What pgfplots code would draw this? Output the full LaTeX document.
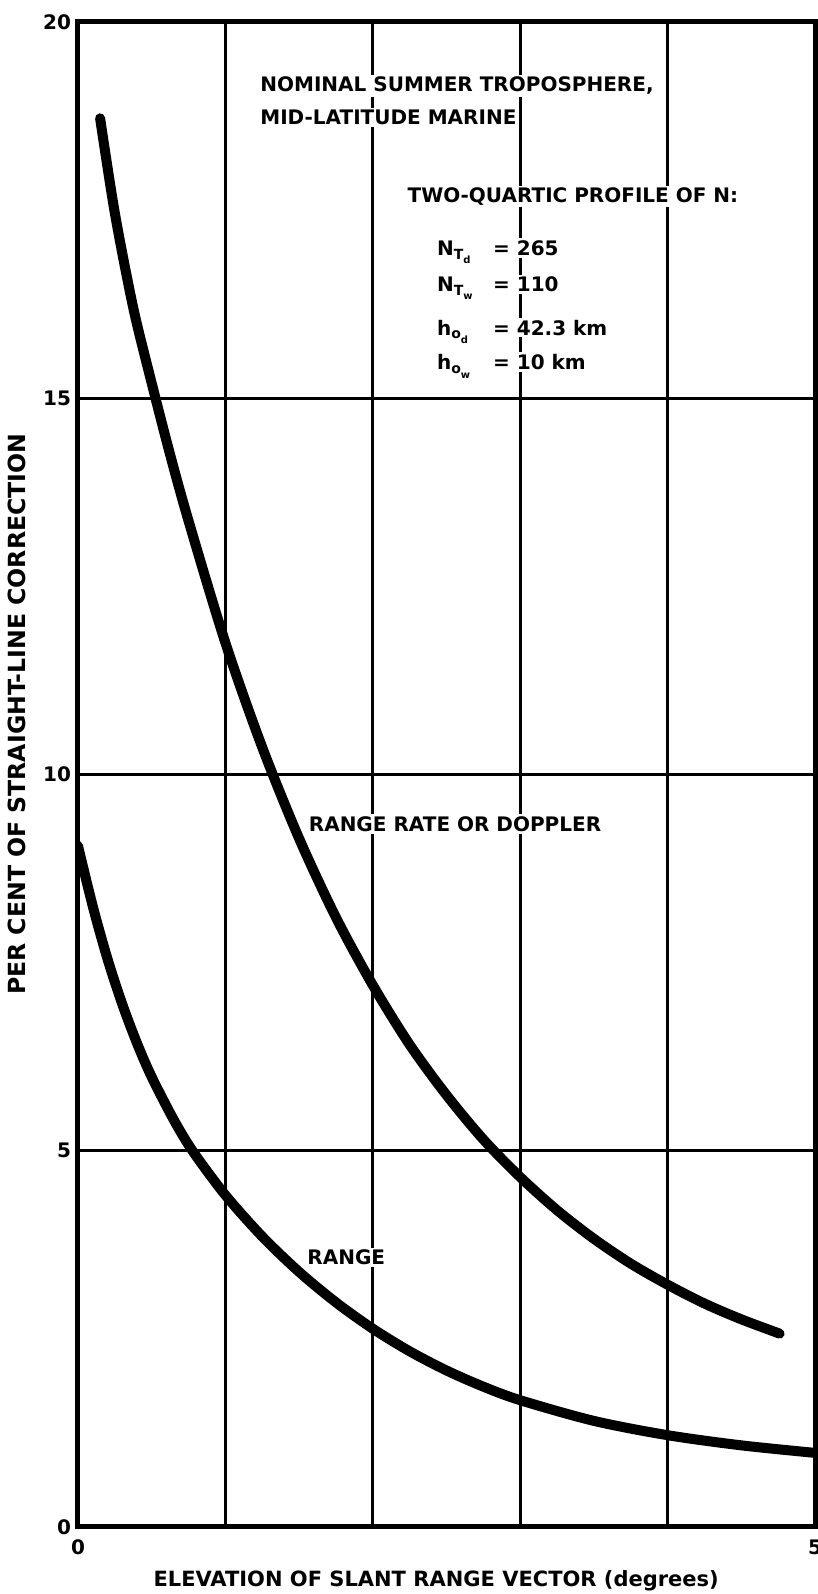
\documentclass[border=0pt]{standalone}
\usepackage{pgfplots}
\pgfplotsset{compat=1.18}
\usepackage{fontspec}
\setmainfont{DejaVu Sans}
\newcommand\lab{\bfseries\fontsize{10}{12}\selectfont}
\newcommand\sub[1]{\raisebox{-0.35ex}{\fontsize{7}{8}\selectfont #1}}
\newcommand\subsub[1]{\raisebox{-0.6ex}{\fontsize{5}{6}\selectfont #1}}
\begin{document}
\begin{tikzpicture}
\begin{axis}[name=ax,
  scale only axis, width=368.5pt, height=752.5pt,
  xmin=0, xmax=5, ymin=0, ymax=20,
  xtick={0,1,2,3,4,5}, xticklabels={0,,,,,5},
  ytick={0,5,10,15,20},
  grid=major, major grid style={black, line width=1.5pt},
  major tick length=0pt,
  axis line style={line width=2.5pt},
  tick label style={font=\lab},
  /pgf/number format/assume math mode=true,
  xticklabel style={yshift=-3pt},
  xlabel={ELEVATION OF SLANT RANGE VECTOR (degrees)},
  xlabel style={at={(axis description cs:0.486,-0.0359)}, anchor=center, font=\bfseries\fontsize{10.5}{12}\selectfont},
  ylabel={PER CENT OF STRAIGHT-LINE CORRECTION},
  ylabel style={at={(axis description cs:-0.0828,0.54)}, anchor=center, font=\bfseries\fontsize{11.8}{13}\selectfont},
]
\node[anchor=base west, fill=white, inner sep=1pt] at (axis cs:1.221,19.07) {\lab NOMINAL SUMMER TROPOSPHERE,};
\node[anchor=base west, fill=white, inner sep=1pt] at (axis cs:1.221,18.64) {\lab MID-LATITUDE MARINE};
\node[anchor=base west, fill=white, inner sep=1pt] at (axis cs:2.22,17.60) {\lab TWO-QUARTIC PROFILE OF N:};
\node[anchor=base west, fill=white, inner sep=1pt] at (axis cs:2.42,16.90) {\lab N\sub{T\subsub{d}}};
\node[anchor=base west, fill=white, inner sep=1pt] at (axis cs:2.80,16.90) {\lab = 265};
\node[anchor=base west, fill=white, inner sep=1pt] at (axis cs:2.42,16.42) {\lab N\sub{T\subsub{w}}};
\node[anchor=base west, fill=white, inner sep=1pt] at (axis cs:2.80,16.42) {\lab = 110};
\node[anchor=base west, fill=white, inner sep=1pt] at (axis cs:2.42,15.84) {\lab h\sub{o\subsub{d}}};
\node[anchor=base west, fill=white, inner sep=1pt] at (axis cs:2.80,15.84) {\lab = 42.3 km};
\node[anchor=base west, fill=white, inner sep=1pt] at (axis cs:2.42,15.38) {\lab h\sub{o\subsub{w}}};
\node[anchor=base west, fill=white, inner sep=1pt] at (axis cs:2.80,15.38) {\lab = 10 km};
\node[anchor=base west, fill=white, inner sep=1pt] at (axis cs:1.55,9.245) {\lab RANGE RATE OR DOPPLER};
\node[anchor=base west, fill=white, inner sep=1pt] at (axis cs:1.54,3.49) {\lab RANGE};
% Range rate or Doppler
\addplot[black, line width=5pt, line cap=round, smooth] coordinates {
(0.15,18.72) (0.25,17.46) (0.375,16.2) (0.5,15.2) (0.625,14.25) (0.75,13.37)
(1.0,11.75) (1.25,10.36) (1.5,9.15) (1.75,8.10) (2.0,7.20)
(2.25,6.41) (2.5,5.74) (2.75,5.15) (3.0,4.65) (3.25,4.21) (3.5,3.83)
(3.75,3.50) (4.0,3.22) (4.25,2.97) (4.5,2.76) (4.76,2.57)
};
% Range
\addplot[black, line width=5pt, line cap=round, smooth] coordinates {
(0.0,9.05) (0.1,8.25) (0.2,7.55) (0.3,6.95) (0.4,6.43) (0.5,5.98) (0.65,5.41)
(0.78,4.99) (1.0,4.41) (1.25,3.86) (1.5,3.39) (1.75,2.985) (2.0,2.635)
(2.25,2.335) (2.5,2.08) (2.75,1.865) (3.0,1.685) (3.5,1.41) (4.0,1.22)
(4.5,1.085) (5.0,0.985)
};
\end{axis}
\pgfresetboundingbox
\path ([shift={(-39pt,-33.5pt)}]ax.south west) rectangle ([shift={(1.5pt,11pt)}]ax.north east);
\end{tikzpicture}
\end{document}
